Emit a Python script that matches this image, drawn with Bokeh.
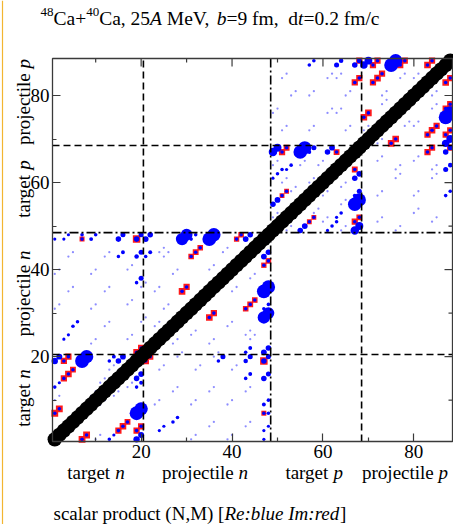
import math
from bokeh.plotting import figure
from bokeh.models import (Label, Span, FixedTicker, LinearAxis, Range1d,
                          ColumnDataSource)
from bokeh.embed import file_html
from bokeh.resources import INLINE

# ------------------------------------------------------------------ data
group_names = ["target", "projectile", "target", "projectile"]
group_particle = ["n", "n", "p", "p"]
group_edges = [0.5, 20.5, 48.5, 68.5, 88.5]
edge_dash = ["7 4", "9 3 2 3", "7 4"]
tick_major = [20, 40, 60, 80]
tick_minor = [10, 30, 50, 70]

# real parts |Re(N,M)|, lower triangle (N > M); the matrix is symmetric
re_N = [19, 20, 47, 48, 47, 48, 67, 68, 87, 88,
        67, 68, 87, 88,
        19, 20, 47, 48, 47, 48, 48, 20, 19, 38, 44, 43, 48, 47, 68, 67, 88, 87,
        87, 88, 56, 55, 68, 67,
        20, 19, 44, 43, 37, 47, 48, 47, 48, 28, 27, 64, 63, 87, 88, 44, 43, 63,
        62, 48, 13, 14, 25, 24, 47, 48, 47, 61, 47]
re_M = [7, 8, 35, 36, 29, 30, 55, 56, 75, 76,
        49, 50, 69, 70,
        1, 2, 43, 44, 21, 22, 20, 16, 15, 20, 20, 19, 16, 15, 62, 61, 68, 67,
        63, 64, 50, 49, 58, 57,
        14, 13, 16, 15, 19, 9, 10, 31, 32, 6, 5, 53, 52, 57, 58, 22, 21, 51,
        50, 7, 1, 2, 4, 3, 3, 4, 1, 49, 19]
re_val = [0.75, 0.70, 0.75, 0.70, 0.60, 0.55, 0.72, 0.68, 0.75, 0.70,
          0.28, 0.25, 0.22, 0.24,
          0.16, 0.14, 0.13, 0.12, 0.13, 0.12, 0.10, 0.13, 0.12, 0.10, 0.10, 0.08,
          0.10, 0.12, 0.13, 0.12, 0.10, 0.12, 0.10, 0.08, 0.13, 0.12, 0.10, 0.06,
          0.06, 0.05, 0.06, 0.05, 0.05, 0.06, 0.05, 0.05, 0.05, 0.05, 0.05, 0.05,
          0.04, 0.05, 0.05, 0.06, 0.05, 0.05, 0.05, 0.05, 0.05, 0.04, 0.04, 0.04,
          0.04, 0.04, 0.04, 0.04, 0.12]

# imaginary parts |Im(N,M)|, lower triangle
im_N = [7, 8, 15, 16, 17, 19, 20, 21, 22, 35, 36, 43, 44, 45, 47, 48, 47, 47,
        67, 68, 67, 75, 76, 83, 84, 83, 84, 85, 87, 88, 87, 88, 87, 88, 88, 57, 58]
im_M = [1, 2, 3, 4, 5, 3, 4, 19, 20, 29, 30, 31, 32, 33, 19, 42, 41, 7,
        51, 52, 63, 69, 70, 67, 68, 71, 72, 73, 71, 72, 77, 78, 83, 84, 68, 51, 52]
im_val = [0.30, 0.30, 0.25, 0.28, 0.22, 0.25, 0.25, 0.28, 0.25, 0.28, 0.25, 0.20,
          0.22, 0.20, 0.36, 0.20, 0.18, 0.16,
          0.25, 0.22, 0.22, 0.28, 0.28, 0.25, 0.25, 0.25, 0.28, 0.25, 0.25, 0.25,
          0.25, 0.25, 0.28, 0.25, 0.25, 0.15, 0.15]
im_re_val = [0.05] * len(im_N)   # real part under each red square

# weak matrix elements (faint dots), lower triangle
faint_N = [10, 11, 31, 32, 39, 40, 35, 36, 43, 44, 11, 12, 23, 24, 27, 28, 31, 32,
           35, 36, 39, 40, 43, 44, 14, 15, 24, 25, 28, 29, 32, 33, 36, 37, 40, 41,
           44, 45, 31, 32, 35, 36, 39, 40, 43, 44, 40, 41, 44, 45, 27, 28, 17, 18,
           52, 53, 60, 61, 64, 65, 72, 73, 76, 77, 80, 81, 84, 85, 60, 61, 72, 73,
           76, 77, 80, 81, 84, 85, 64, 65, 72, 73, 76, 77, 80, 81, 84, 85, 80, 81,
           78, 79, 84, 85, 58, 59, 72, 73, 84, 85, 64, 65]
faint_M = [1, 2, 1, 2, 1, 2, 4, 5, 4, 5, 9, 10, 9, 10, 12, 13, 9, 10,
           12, 13, 9, 10, 12, 13, 11, 12, 17, 18, 20, 21, 17, 18, 20, 21, 17, 18,
           24, 25, 25, 26, 23, 24, 27, 28, 25, 26, 35, 36, 38, 39, 23, 24, 13, 14,
           49, 50, 51, 52, 49, 50, 51, 52, 49, 50, 53, 54, 51, 52, 57, 58, 57, 58,
           61, 62, 57, 58, 61, 62, 59, 60, 65, 66, 63, 64, 65, 66, 63, 64, 73, 74,
           73, 74, 77, 78, 53, 54, 69, 70, 80, 81, 55, 56]
faint_val = [0.02] * len(faint_N)

# norms on the diagonal
diag_N = list(range(1, 89))
diag_val = [1.0] * 88

# ------------------------------------------------------------------ layout
W, H = 453, 524
FL, FR, FT, FB = 52, 452, 58, 441          # matrix box in page pixels
lo, hi = group_edges[0], group_edges[-1]
ux = (hi - lo) / (FR - FL)                 # data units per pixel
uy = (hi - lo) / (FB - FT)
x_rng = Range1d(lo - FL * ux, hi + (W - FR) * ux)
y_rng = Range1d(lo - (H - FB) * uy, hi + FT * uy)

SERIF = "Liberation Serif"
FS = 19
INK = "#3a3a3a"

p = figure(width=W, height=H, x_range=x_rng, y_range=y_rng,
           x_axis_location=None, y_axis_location=None,
           output_backend="svg", toolbar_location=None,
           min_border=0, background_fill_color="white",
           border_fill_color="white")
p.grid.visible = False
p.outline_line_color = None


def style_axis(ax):
    ax.ticker = FixedTicker(ticks=tick_major, minor_ticks=tick_minor)
    ax.axis_line_color = None
    ax.major_tick_in = 8
    ax.major_tick_out = 0
    ax.minor_tick_in = 4
    ax.minor_tick_out = 0
    ax.major_tick_line_color = INK
    ax.minor_tick_line_color = INK
    ax.major_tick_line_width = 1.2
    ax.minor_tick_line_width = 1.2
    ax.major_label_text_font = SERIF
    ax.major_label_text_font_size = f"{FS}px"
    ax.major_label_text_color = "black"
    ax.major_label_standoff = 3


xa = LinearAxis(fixed_location=lo)
ya = LinearAxis(fixed_location=lo)
style_axis(xa)
style_axis(ya)
p.add_layout(xa, "below")
p.add_layout(ya, "left")

# mirrored ticks on top and right edge of the box
p.segment(x0=tick_major, x1=tick_major, y0=[hi] * 4, y1=[hi - 8 * uy] * 4,
          line_color=INK, line_width=1.2)
p.segment(x0=tick_minor, x1=tick_minor, y0=[hi] * 4, y1=[hi - 4 * uy] * 4,
          line_color=INK, line_width=1.2)
p.segment(y0=tick_major, y1=tick_major, x0=[hi] * 4, x1=[hi - 8 * ux] * 4,
          line_color=INK, line_width=1.2)
p.segment(y0=tick_minor, y1=tick_minor, x0=[hi] * 4, x1=[hi - 4 * ux] * 4,
          line_color=INK, line_width=1.2)

# symmetric matrix: mirror lower triangle
def mirror(n, m, v):
    return n + m, m + n, v + v


imN, imM, imV = mirror(im_N, im_M, im_val)
src_im = ColumnDataSource(dict(N=imN, M=imM,
                               s=[12.5 * math.sqrt(v) for v in imV]))
p.scatter("N", "M", source=src_im, marker="square", size="s",
          fill_color="#ff1a1a", line_color=None)

fN, fM, fV = mirror(faint_N, faint_M, faint_val)
src_f = ColumnDataSource(dict(N=fN, M=fM, s=[16 * math.sqrt(v) for v in fV]))
p.scatter("N", "M", source=src_f, marker="circle", size="s",
          fill_color="#3030ff", fill_alpha=0.55, line_color=None)

rN, rM, rV = mirror(re_N + im_N, re_M + im_M, re_val + im_re_val)
src_re = ColumnDataSource(dict(N=rN, M=rM, s=[16 * math.sqrt(v) for v in rV]))
p.scatter("N", "M", source=src_re, marker="circle", size="s",
          fill_color="#0000ff", line_color=None)

src_d = ColumnDataSource(dict(N=diag_N, M=diag_N,
                              s=[14.5 * math.sqrt(v) for v in diag_val]))
p.scatter("N", "M", source=src_d, marker="circle", size="s",
          fill_color="black", line_color=None)

# group separators
for e, dash in zip(group_edges[1:-1], edge_dash):
    p.segment(x0=[e], x1=[e], y0=[lo], y1=[hi], line_color="black",
              line_width=1.6, line_dash=dash)
    p.segment(x0=[lo], x1=[hi], y0=[e], y1=[e], line_color="black",
              line_width=1.6, line_dash=dash)

# box
p.quad(left=[lo], right=[hi], bottom=[lo], top=[hi], fill_color=None,
       line_color=INK, line_width=1.3)

# thin amber rule at the page's left edge
p.add_layout(Span(location=lo - (FL - 2) * ux, dimension="height",
                  line_color="#f2b531", line_width=1.2))

# ------------------------------------------------------------------ texts
W_REG = {' ': 250, '(': 333, ')': 333, '+': 564, ',': 250, '.': 250, '/': 278,
         ':': 278, '=': 564, '[': 333, ']': 333, 'A': 722, 'C': 667, 'I': 333,
         'M': 889, 'N': 722, 'R': 667, 'V': 722, 'a': 444, 'b': 500, 'c': 444,
         'd': 500, 'e': 444, 'f': 333, 'g': 500, 'i': 278, 'j': 278, 'l': 278,
         'm': 778, 'n': 500, 'o': 500, 'p': 500, 'r': 333, 's': 389, 't': 278,
         'u': 500, 'v': 500}
W_IT = {' ': 250, ':': 333, 'A': 611, 'I': 333, 'R': 611, 'b': 500, 'd': 500,
        'e': 444, 'l': 278, 'm': 722, 'n': 500, 'p': 500, 'r': 389, 't': 278,
        'u': 500}


def tw(s, italic):
    tab = W_IT if italic else W_REG
    return sum(tab.get(ch, 500) for ch in s) / 1000.0


def run(pieces, px, py, vertical=False, center=False):
    """pieces: (text, italic, font px, rise px); px, py = page pixels of the
    start (or centre) of the baseline, y measured from the page top."""
    total = sum(tw(t, it) * fs for t, it, fs, r in pieces)
    off = -total / 2 if center else 0.0
    for t, it, fs, r in pieces:
        lead = len(t) - len(t.lstrip(" "))
        off += lead * 0.25 * fs
        core = t.strip(" ")
        if vertical:
            sx, sy = px - r, (H - py) + off
        else:
            sx, sy = px + off, (H - py) + r
        p.add_layout(Label(x=sx, y=sy, x_units="screen", y_units="screen",
                           angle=math.pi / 2 if vertical else 0.0, text=core,
                           text_font=SERIF,
                           text_font_style="italic" if it else "normal",
                           text_font_size=f"{fs:.1f}px", text_align="left",
                           text_baseline="alphabetic", text_color="black"))
        off += tw(core, it) * fs
        trail = len(t) - len(t.rstrip(" "))
        off += trail * 0.25 * fs


TF = 19.5
SUP = 13
run([("48", False, SUP, 7), ("Ca+", False, TF, 0), ("40", False, SUP, 7),
     ("Ca, 25", False, TF, 0), ("A", True, TF, 0), (" MeV, ", False, TF, 0),
     ("b", True, TF, 0), ("=9 fm,", False, TF, 0), ("  d", False, TF, 0),
     ("t", True, TF, 0), ("=0.2 fm/c", False, TF, 0)], 40, 18)

run([("scalar product (N,M) [", False, FS, 0), ("Re:blue Im:red", True, FS, 0),
     ("]", False, FS, 0)], 53, 513)

for i in range(4):
    c = 0.5 * (group_edges[i] + group_edges[i + 1])
    pieces = [(group_names[i] + " ", False, FS, 0),
              (group_particle[i], True, FS, 0)]
    run(pieces, FL + (c - lo) / ux - 2, 472, center=True)
    run(pieces, 23, FB - (c - lo) / uy, vertical=True, center=True)

open("out.html", "w").write(file_html(p, INLINE))
